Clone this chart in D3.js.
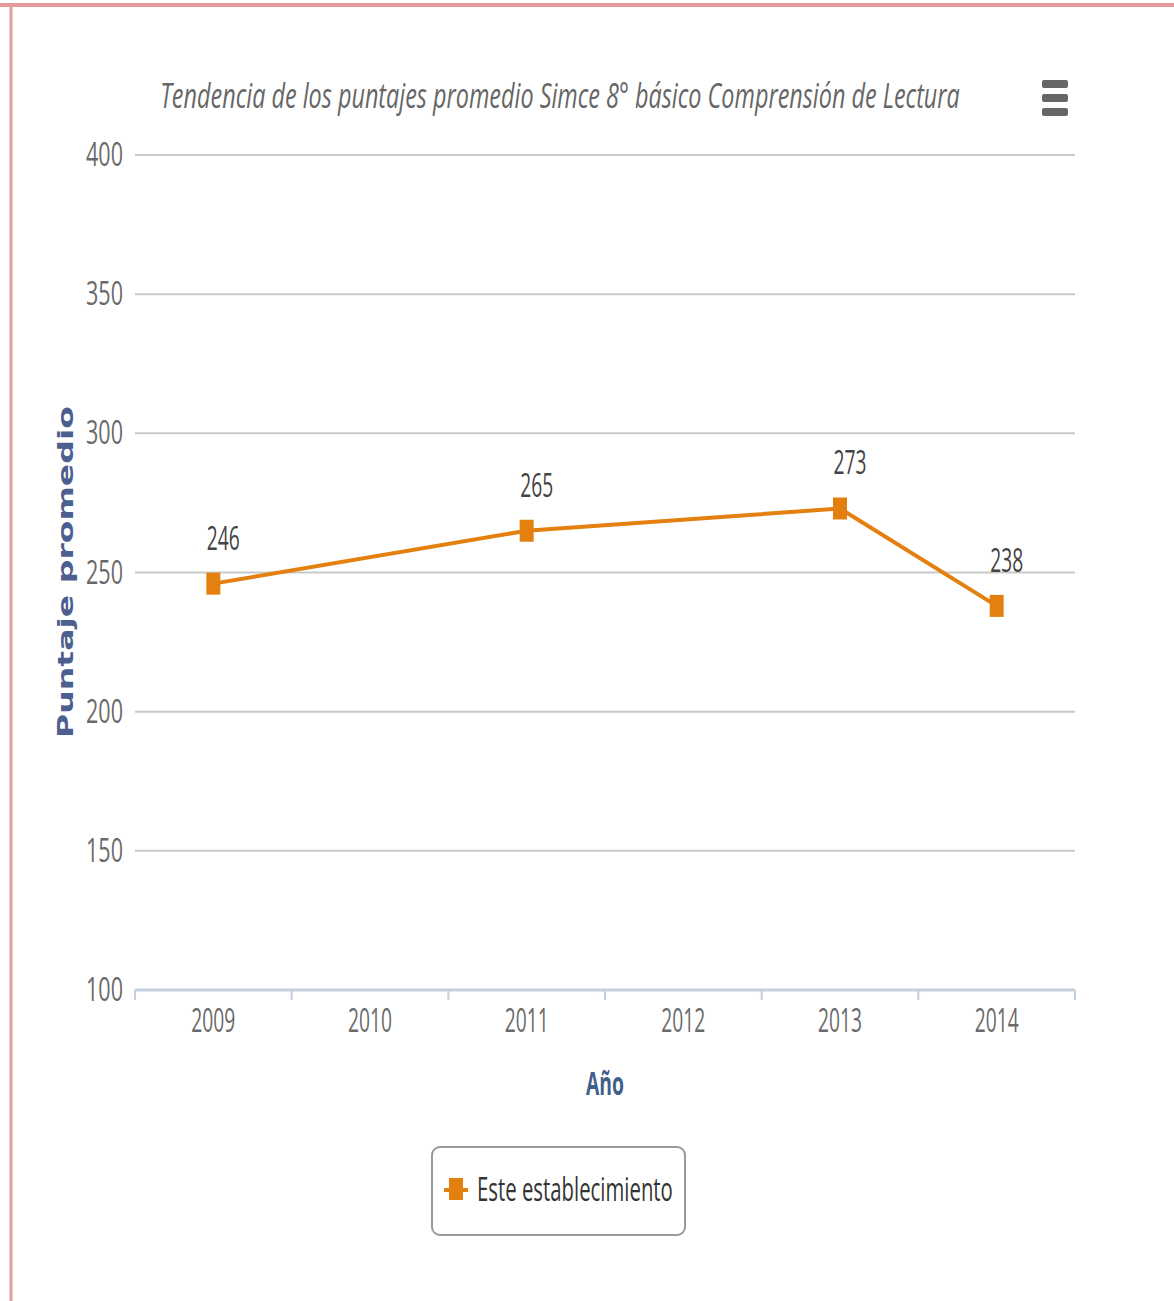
<!DOCTYPE html>
<html><head><meta charset="utf-8">
<script src="https://cdn.jsdelivr.net/npm/d3@7"></script>
<style>body{margin:0;background:#fff}svg{display:block}</style>
</head><body>
<svg id="c" width="1174" height="1301"></svg>
<script>
const years = ["2009","2010","2011","2012","2013","2014"];
const values = [246, null, 265, null, 273, 238];
const yTicks = [100,150,200,250,300,350,400];
const titleText = "Tendencia de los puntajes promedio Simce 8° básico Comprensión de Lectura";
const seriesName = "Este establecimiento";
const yTitle = "Puntaje promedio";
const xTitle = "Año";

const svg = d3.select("#c");
const orange = "#E4800F";
const tickFont = "'Open Sans', sans-serif";

svg.append("rect").attr("x",0).attr("y",0).attr("width",1174).attr("height",1301).attr("fill","#fff");
svg.append("line").attr("x1",0).attr("x2",1174).attr("y1",5).attr("y2",5).attr("stroke","#e79a9a").attr("stroke-width",4);
svg.append("line").attr("x1",11).attr("x2",11).attr("y1",5).attr("y2",1301).attr("stroke","#e79a9a").attr("stroke-width",3);

const x = d3.scaleBand().domain(years).range([135,1075]);
const y = d3.scaleLinear().domain([100,400]).range([990,155]);

// text compressed horizontally to a target width via transform
function ctext(sel, txt, xx, yy, len, opts={}) {
  const g = sel.append("g");
  const t = g.append("text").attr("x",0).attr("y",0)
    .attr("text-anchor", opts.anchor || "middle")
    .attr("font-family", opts.family || tickFont)
    .attr("font-size", opts.size || 30)
    .attr("font-weight", opts.weight || "normal")
    .attr("font-style", opts.style || "normal")
    .attr("fill", opts.fill || "#555")
    .text(txt);
  const w = t.node().getComputedTextLength() || len;
  const sx = len / w;
  g.attr("transform", `translate(${xx},${yy}) ${opts.rot ? "rotate("+opts.rot+")" : ""} scale(${sx},1)`);
  return g;
}

svg.append("g").selectAll("line").data(yTicks.filter(d=>d>100)).join("line")
  .attr("x1",135).attr("x2",1075).attr("y1",d=>y(d)).attr("y2",d=>y(d))
  .attr("stroke","#c9c9c9").attr("stroke-width",2);

svg.append("line").attr("x1",135).attr("x2",1075).attr("y1",y(100)).attr("y2",y(100)).attr("stroke","#c3d1df").attr("stroke-width",3);
const tickPos = years.map(d=>x(d)).concat([1075]);
svg.append("g").selectAll("line").data(tickPos).join("line")
  .attr("x1",d=>d).attr("x2",d=>d).attr("y1",y(100)).attr("y2",y(100)+10)
  .attr("stroke","#c3d1df").attr("stroke-width",2);

yTicks.forEach(t => ctext(svg, t, 123, y(t)+11, 37, {anchor:"end", size:32, fill:"#6a6a6a"}));
years.forEach(yr => ctext(svg, yr, x(yr)+x.bandwidth()/2, 1032, 44, {size:32, fill:"#6a6a6a"}));

ctext(svg, titleText, 560, 108, 800, {size:34, style:"italic", fill:"#666"});

ctext(svg, yTitle, 73, 572, 332, {family:"'DejaVu Sans', sans-serif", weight:"bold", size:22, fill:"#4d5f8f", rot:-90});
ctext(svg, xTitle, 605, 1095, 38, {size:32, weight:"bold", fill:"#3f5f8c"});

const pts = years.map((yr,i)=>({yr, v:values[i]})).filter(d=>d.v!=null);
const line = d3.line().x(d=>x(d.yr)+x.bandwidth()/2).y(d=>y(d.v));
svg.append("path").datum(pts).attr("d",line).attr("fill","none").attr("stroke",orange).attr("stroke-width",4);
svg.append("g").selectAll("rect").data(pts).join("rect")
  .attr("x",d=>x(d.yr)+x.bandwidth()/2-7).attr("y",d=>y(d.v)-11)
  .attr("width",14).attr("height",22).attr("fill",orange);
pts.forEach(d => ctext(svg, d.v, x(d.yr)+x.bandwidth()/2+10, y(d.v)-34, 33, {size:32, fill:"#444"}));

svg.append("rect").attr("x",432).attr("y",1147).attr("width",253).attr("height",88).attr("rx",8)
  .attr("fill","#fff").attr("stroke","#999").attr("stroke-width",2);
svg.append("line").attr("x1",444).attr("x2",468).attr("y1",1190).attr("y2",1190).attr("stroke",orange).attr("stroke-width",4);
svg.append("rect").attr("x",449).attr("y",1178).attr("width",14).attr("height",22).attr("fill",orange);
ctext(svg, seriesName, 477, 1201, 196, {anchor:"start", size:32, fill:"#333"});

[84,98,112].forEach(yy => svg.append("rect").attr("x",1042).attr("y",yy-4).attr("width",26).attr("height",8).attr("rx",2).attr("fill","#666"));
</script>
</body></html>
